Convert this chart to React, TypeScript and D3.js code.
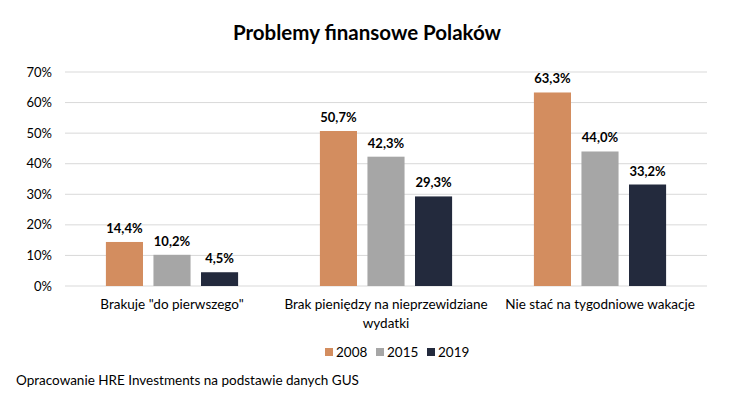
import React from 'react';
import * as d3 from 'd3';

const categories = ['Brakuje "do pierwszego"', 'Brak pieniędzy na nieprzewidziane wydatki', 'Nie stać na tygodniowe wakacje'];
const categoryLines = [['Brakuje "do pierwszego"'], ['Brak pieniędzy na nieprzewidziane', 'wydatki'], ['Nie stać na tygodniowe wakacje']];
const years = ['2008', '2015', '2019'];
const values2008 = [14.4, 50.7, 63.3];
const values2015 = [10.2, 42.3, 44.0];
const values2019 = [4.5, 29.3, 33.2];
const yTicks = [0, 10, 20, 30, 40, 50, 60, 70];
const colors = ['#d38d5f', '#a6a6a6', '#232a3d'];

const font = 'Lato, "Open Sans", sans-serif';

const App = () => {
    const width = 740;
    const height = 399;
    const margin = { top: 72, right: 33, bottom: 113, left: 65 };
    const series = [values2008, values2015, values2019];

    const x0 = d3.scaleBand()
        .domain(categories)
        .range([margin.left, width - margin.right])
        .paddingInner(0)
        .paddingOuter(0);

    const x1 = d3.scaleBand()
        .domain(years)
        .range([0, x0.bandwidth()])
        .paddingInner(0.22)
        .paddingOuter(0.86);

    const y = d3.scaleLinear()
        .domain([0, 70])
        .range([286, 72]);

    const fmt = (v: number) => v.toFixed(1).replace('.', ',') + '%';

    return (
        <svg width={width} height={height} style={{ display: 'block', margin: '-8px', background: '#fff' }}>
            <rect width={width} height={height} fill="#fff" />
            <text x={367} y={40} textAnchor="middle" fontFamily={font} fontWeight="bold" fontSize={20.5} fill="#000">
                Problemy finansowe Polaków
            </text>
            {yTicks.map((t) => (
                <g key={t}>
                    <line x1={margin.left} x2={width - margin.right} y1={y(t)} y2={y(t)} stroke="#d9d9d9" strokeWidth={1} />
                    <text x={52} y={y(t) + 4.5} textAnchor="end" fontFamily={font} fontSize={13} fill="#000">{t}%</text>
                </g>
            ))}
            {categories.map((c, ci) => (
                <g key={c} transform={'translate(' + x0(c) + ',0)'}>
                    {series.map((s, si) => (
                        <g key={si}>
                            <rect x={x1(years[si])} y={y(s[ci])} width={x1.bandwidth()} height={y(0) - y(s[ci])} fill={colors[si]} />
                            <text x={(x1(years[si]) as number) + x1.bandwidth() / 2} y={y(s[ci]) - 9} textAnchor="middle"
                                fontFamily={font} fontWeight="bold" fontSize={13} fill="#000">{fmt(s[ci])}</text>
                        </g>
                    ))}
                    {categoryLines[ci].map((line, li) => (
                        <text key={li} x={x0.bandwidth() / 2} y={309 + li * 19} textAnchor="middle" fontFamily={font} fontSize={13.5} fill="#000">{line}</text>
                    ))}
                </g>
            ))}
            {years.map((yr, i) => (
                <g key={yr} transform={'translate(' + (325 + i * 51) + ',348)'}>
                    <rect x={0} y={0} width={8} height={8} fill={colors[i]} />
                    <text x={11} y={9} fontFamily={font} fontSize={13.5} fill="#000">{yr}</text>
                </g>
            ))}
            <text x={16} y={385} fontFamily={font} fontSize={13.5} fill="#000">
                Opracowanie HRE Investments na podstawie danych GUS
            </text>
        </svg>
    );
};

export default App;
